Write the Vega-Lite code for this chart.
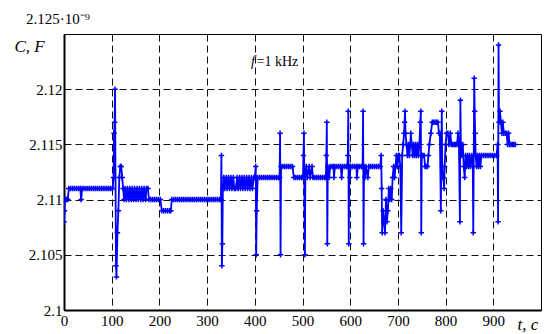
{
  "$schema": "https://vega.github.io/schema/vega-lite/v6.json",
  "width": 477,
  "height": 276,
  "autosize": {"type": "none"},
  "padding": {"left": 64, "top": 34, "right": 11, "bottom": 24},
  "background": "white",
  "title": {"text": "2.125·10⁻⁹", "font": "Liberation Serif", "fontSize": 15, "fontWeight": "normal", "color": "black", "anchor": "start", "frame": "group", "dx": -38, "dy": 18, "offset": 13, "baseline": "alphabetic"},
  "config": {
    "view": {"stroke": "black", "strokeWidth": 1},
    "axis": {"labelFont": "Liberation Serif", "labelFontSize": 15, "labelColor": "black", "ticks": false, "domainColor": "black", "domainWidth": 2, "grid": true, "gridColor": "#111", "gridDash": [7, 4], "gridWidth": 1, "gridOpacity": 1, "titleFont": "Liberation Serif", "titleFontStyle": "italic", "titleFontWeight": "normal", "titleFontSize": 17, "titleColor": "black"}
  },
  "datasets": {
    "note": [{"label": "f", "t": 392, "C": 2.1225}]
  },
  "data": {"values": [
    {"t":0,"C":2.108},{"t":1,"C":2.109},{"t":2,"C":2.110},{"t":5,"C":2.110},{"t":8,"C":2.110},{"t":10,"C":2.111},{"t":14,"C":2.111},{"t":18,"C":2.111},{"t":22,"C":2.111},{"t":26,"C":2.111},{"t":30,"C":2.111},{"t":34,"C":2.111},{"t":36,"C":2.110},{"t":38,"C":2.111},{"t":42,"C":2.111},{"t":46,"C":2.111},{"t":50,"C":2.111},{"t":54,"C":2.111},{"t":58,"C":2.111},{"t":62,"C":2.111},{"t":66,"C":2.111},{"t":70,"C":2.111},{"t":74,"C":2.111},{"t":78,"C":2.111},{"t":82,"C":2.111},{"t":86,"C":2.111},{"t":90,"C":2.111},{"t":94,"C":2.111},{"t":98,"C":2.111},{"t":102,"C":2.111},
    {"t":104,"C":2.112},{"t":105,"C":2.116},{"t":106,"C":2.117},{"t":107,"C":2.120},{"t":109,"C":2.104},{"t":110,"C":2.103},{"t":112,"C":2.107},{"t":114,"C":2.109},{"t":116,"C":2.112},{"t":118,"C":2.113},{"t":120,"C":2.113},{"t":122,"C":2.112},{"t":124,"C":2.111},
    {"t":126,"C":2.110},{"t":128,"C":2.111},{"t":131,"C":2.110},{"t":133,"C":2.111},{"t":136,"C":2.110},{"t":138,"C":2.111},{"t":141,"C":2.110},{"t":143,"C":2.111},{"t":146,"C":2.110},{"t":148,"C":2.111},{"t":151,"C":2.110},{"t":153,"C":2.111},{"t":156,"C":2.110},{"t":158,"C":2.111},{"t":161,"C":2.110},{"t":163,"C":2.111},{"t":166,"C":2.110},{"t":168,"C":2.111},{"t":171,"C":2.110},{"t":173,"C":2.111},{"t":176,"C":2.111},{"t":178,"C":2.110},
    {"t":182,"C":2.110},{"t":186,"C":2.110},{"t":190,"C":2.110},{"t":194,"C":2.110},{"t":198,"C":2.110},{"t":202,"C":2.110},{"t":205,"C":2.109},{"t":209,"C":2.109},{"t":213,"C":2.109},{"t":217,"C":2.109},{"t":221,"C":2.109},{"t":224,"C":2.109},{"t":226,"C":2.110},{"t":230,"C":2.110},{"t":234,"C":2.110},{"t":238,"C":2.110},{"t":242,"C":2.110},{"t":246,"C":2.110},{"t":250,"C":2.110},{"t":254,"C":2.110},{"t":258,"C":2.110},{"t":262,"C":2.110},{"t":266,"C":2.110},{"t":270,"C":2.110},{"t":274,"C":2.110},{"t":278,"C":2.110},{"t":282,"C":2.110},{"t":286,"C":2.110},{"t":290,"C":2.110},{"t":294,"C":2.110},{"t":298,"C":2.110},{"t":302,"C":2.110},{"t":306,"C":2.110},{"t":310,"C":2.110},{"t":314,"C":2.110},{"t":318,"C":2.110},{"t":322,"C":2.110},{"t":326,"C":2.110},
    {"t":329,"C":2.110},{"t":330,"C":2.114},{"t":331,"C":2.104},{"t":332,"C":2.106},{"t":333,"C":2.111},
    {"t":335,"C":2.112},{"t":337,"C":2.111},{"t":340,"C":2.112},{"t":342,"C":2.111},{"t":345,"C":2.112},{"t":347,"C":2.111},{"t":350,"C":2.112},{"t":352,"C":2.111},{"t":355,"C":2.112},{"t":357,"C":2.111},{"t":360,"C":2.111},{"t":363,"C":2.112},{"t":365,"C":2.111},{"t":368,"C":2.112},{"t":370,"C":2.111},{"t":373,"C":2.112},{"t":375,"C":2.111},{"t":378,"C":2.112},{"t":380,"C":2.111},{"t":383,"C":2.112},{"t":385,"C":2.111},{"t":388,"C":2.112},{"t":390,"C":2.111},{"t":393,"C":2.112},{"t":395,"C":2.111},{"t":398,"C":2.112},{"t":400,"C":2.112},
    {"t":402,"C":2.113},{"t":403,"C":2.105},{"t":404,"C":2.109},{"t":406,"C":2.112},
    {"t":410,"C":2.112},{"t":414,"C":2.112},{"t":418,"C":2.112},{"t":422,"C":2.112},{"t":426,"C":2.112},{"t":430,"C":2.112},{"t":434,"C":2.112},{"t":438,"C":2.112},{"t":442,"C":2.112},{"t":446,"C":2.112},{"t":450,"C":2.112},
    {"t":452,"C":2.112},{"t":453,"C":2.116},{"t":454,"C":2.105},{"t":455,"C":2.113},{"t":459,"C":2.113},{"t":463,"C":2.113},{"t":467,"C":2.113},{"t":471,"C":2.113},{"t":475,"C":2.113},{"t":479,"C":2.113},{"t":482,"C":2.112},{"t":486,"C":2.112},{"t":490,"C":2.112},{"t":494,"C":2.112},{"t":498,"C":2.112},{"t":501,"C":2.112},
    {"t":502,"C":2.114},{"t":503,"C":2.116},{"t":505,"C":2.105},{"t":506,"C":2.112},{"t":508,"C":2.113},{"t":510,"C":2.112},{"t":514,"C":2.113},{"t":516,"C":2.112},{"t":520,"C":2.113},{"t":522,"C":2.112},{"t":526,"C":2.112},{"t":530,"C":2.112},{"t":534,"C":2.112},{"t":538,"C":2.112},{"t":542,"C":2.112},{"t":546,"C":2.112},{"t":549,"C":2.112},
    {"t":550,"C":2.114},{"t":551,"C":2.117},{"t":552,"C":2.106},{"t":553,"C":2.113},{"t":556,"C":2.112},{"t":558,"C":2.113},{"t":562,"C":2.113},{"t":565,"C":2.113},{"t":566,"C":2.112},{"t":568,"C":2.113},{"t":572,"C":2.113},{"t":576,"C":2.113},{"t":580,"C":2.113},{"t":582,"C":2.112},{"t":584,"C":2.113},{"t":588,"C":2.113},{"t":592,"C":2.113},{"t":594,"C":2.113},
    {"t":595,"C":2.114},{"t":596,"C":2.118},{"t":597,"C":2.106},{"t":598,"C":2.113},{"t":599,"C":2.112},{"t":601,"C":2.113},{"t":605,"C":2.113},{"t":609,"C":2.113},{"t":613,"C":2.113},{"t":614,"C":2.112},{"t":616,"C":2.113},{"t":620,"C":2.113},{"t":624,"C":2.113},{"t":626,"C":2.113},
    {"t":627,"C":2.118},{"t":628,"C":2.106},{"t":629,"C":2.113},{"t":631,"C":2.112},{"t":633,"C":2.113},{"t":637,"C":2.112},{"t":639,"C":2.113},{"t":643,"C":2.113},{"t":647,"C":2.113},{"t":651,"C":2.113},{"t":655,"C":2.113},{"t":659,"C":2.113},{"t":663,"C":2.113},
    {"t":665,"C":2.114},{"t":666,"C":2.111},{"t":667,"C":2.107},{"t":669,"C":2.109},{"t":671,"C":2.108},{"t":673,"C":2.107},{"t":675,"C":2.110},{"t":677,"C":2.108},{"t":679,"C":2.109},{"t":681,"C":2.111},{"t":683,"C":2.110},{"t":685,"C":2.111},{"t":687,"C":2.110},{"t":689,"C":2.112},{"t":691,"C":2.113},{"t":693,"C":2.112},{"t":695,"C":2.113},{"t":697,"C":2.114},{"t":699,"C":2.113},{"t":701,"C":2.114},{"t":703,"C":2.114},{"t":705,"C":2.113},{"t":707,"C":2.107},{"t":709,"C":2.114},{"t":711,"C":2.115},{"t":713,"C":2.116},{"t":714,"C":2.117},{"t":715,"C":2.118},{"t":716,"C":2.116},{"t":718,"C":2.115},{"t":720,"C":2.114},{"t":722,"C":2.115},{"t":724,"C":2.114},{"t":726,"C":2.115},{"t":727,"C":2.116},{"t":729,"C":2.115},{"t":731,"C":2.114},{"t":733,"C":2.115},{"t":735,"C":2.114},{"t":737,"C":2.115},{"t":739,"C":2.114},{"t":741,"C":2.115},{"t":743,"C":2.114},{"t":745,"C":2.115},{"t":747,"C":2.117},{"t":748,"C":2.118},{"t":749,"C":2.107},{"t":750,"C":2.114},{"t":752,"C":2.114},{"t":755,"C":2.114},{"t":757,"C":2.113},{"t":759,"C":2.113},{"t":762,"C":2.113},{"t":764,"C":2.114},{"t":766,"C":2.115},{"t":769,"C":2.116},{"t":772,"C":2.117},{"t":775,"C":2.117},{"t":778,"C":2.117},{"t":781,"C":2.117},{"t":784,"C":2.117},{"t":786,"C":2.116},{"t":788,"C":2.116},{"t":790,"C":2.109},{"t":792,"C":2.118},{"t":793,"C":2.113},{"t":795,"C":2.112},{"t":797,"C":2.111},{"t":798,"C":2.113},{"t":800,"C":2.115},{"t":802,"C":2.116},{"t":805,"C":2.116},{"t":807,"C":2.115},{"t":810,"C":2.116},{"t":812,"C":2.115},{"t":815,"C":2.115},{"t":818,"C":2.115},{"t":821,"C":2.115},{"t":824,"C":2.115},{"t":826,"C":2.116},{"t":828,"C":2.115},{"t":830,"C":2.108},{"t":831,"C":2.119},{"t":832,"C":2.115},{"t":834,"C":2.114},{"t":836,"C":2.115},{"t":838,"C":2.113},{"t":840,"C":2.112},{"t":842,"C":2.114},{"t":844,"C":2.113},{"t":846,"C":2.114},{"t":848,"C":2.113},{"t":850,"C":2.114},{"t":852,"C":2.113},{"t":855,"C":2.114},{"t":857,"C":2.113},{"t":858,"C":2.107},{"t":860,"C":2.121},{"t":861,"C":2.118},{"t":862,"C":2.116},{"t":863,"C":2.114},{"t":865,"C":2.113},{"t":867,"C":2.114},{"t":869,"C":2.113},{"t":871,"C":2.114},{"t":873,"C":2.113},{"t":875,"C":2.114},{"t":879,"C":2.114},{"t":883,"C":2.114},{"t":887,"C":2.114},{"t":891,"C":2.114},{"t":895,"C":2.114},{"t":899,"C":2.114},{"t":903,"C":2.114},{"t":907,"C":2.114},{"t":909,"C":2.115},{"t":910,"C":2.108},{"t":911,"C":2.124},{"t":912,"C":2.117},{"t":914,"C":2.118},{"t":916,"C":2.117},{"t":918,"C":2.116},{"t":920,"C":2.117},{"t":922,"C":2.116},{"t":925,"C":2.116},{"t":928,"C":2.116},{"t":930,"C":2.115},{"t":932,"C":2.116},{"t":934,"C":2.115},{"t":937,"C":2.115},{"t":940,"C":2.115},{"t":943,"C":2.115},{"t":946,"C":2.115}
  ]},
  "encoding": {
    "x": {"field": "t", "type": "quantitative", "scale": {"domain": [0, 1000], "nice": false, "zero": false},
      "axis": {"values": [0, 100, 200, 300, 400, 500, 600, 700, 800, 900], "title": "t, c", "labelPadding": 3, "labelFlush": false, "labelOverlap": false, "titleAnchor": "start", "titleAlign": "left", "titleBaseline": "middle", "titleX": 453, "titleY": 14}},
    "y": {"field": "C", "type": "quantitative", "scale": {"domain": [2.1, 2.125], "nice": false, "zero": false},
      "axis": {"values": [2.1, 2.105, 2.11, 2.115, 2.12], "format": ".3~f", "title": "C, F", "labelPadding": 2, "labelFlush": false, "labelOverlap": false, "titleAngle": 0, "titleAnchor": "start", "titleAlign": "left", "titleBaseline": "middle", "titleX": -50, "titleY": 12}}
  },
  "layer": [
    {"mark": {"type": "line", "color": "#0000ff", "strokeWidth": 1.8, "clip": true}},
    {"mark": {"type": "point", "shape": "M-1,0H1M0,-1V1", "filled": false, "stroke": "#0000ff", "strokeWidth": 1.5, "size": 30, "opacity": 1, "clip": true}},
    {"data": {"name": "note"}, "mark": {"type": "text", "font": "Liberation Serif", "fontStyle": "italic", "fontSize": 14, "align": "left", "baseline": "middle", "color": "black"},
      "encoding": {"text": {"field": "label"}}},
    {"data": {"name": "note"}, "mark": {"type": "text", "text": "=1 kHz", "font": "Liberation Serif", "fontSize": 14, "align": "left", "baseline": "middle", "color": "black", "dx": 5.5}}
  ]
}
